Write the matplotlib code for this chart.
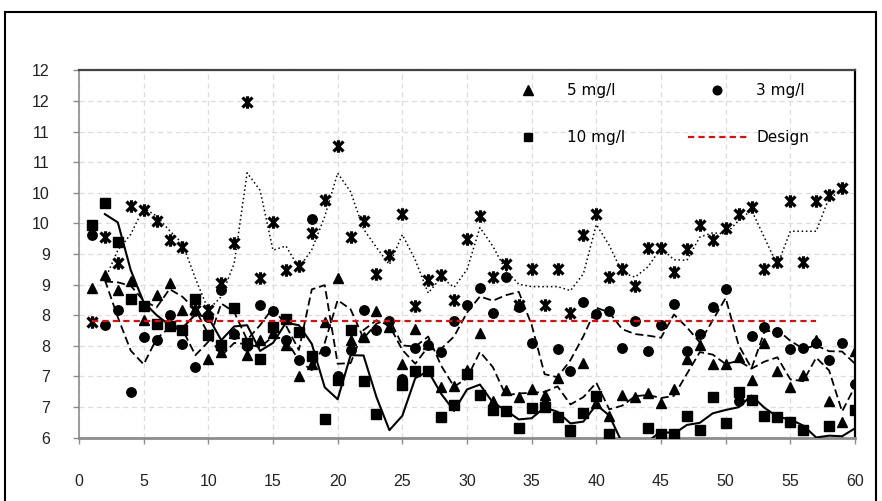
import numpy as np
import pandas as pd
import matplotlib
matplotlib.use("Agg")
import matplotlib.pyplot as plt
from matplotlib.path import Path
from matplotlib.lines import Line2D
from matplotlib.patches import Rectangle
from matplotlib.ticker import FuncFormatter

# ---- data -------------------------------------------------------------
days = list(range(1, 61))

dose_5 = [8.44, 8.66, 8.41, 8.55, 7.92, 8.33, 8.52, 8.08, 8.10, 7.28,
          7.39, 7.70, 7.35, 7.60, 7.70, 7.51, 7.00, 7.20, 7.89, 8.60,
          7.59, 7.65, 8.07, 7.81, 7.20, 7.77, 7.53, 6.82, 6.84, 7.10,
          7.70, 6.60, 6.78, 6.66, 6.80, 6.69, 6.98, 6.10, 7.22, 6.57,
          6.35, 6.69, 6.66, 6.73, 6.56, 6.80, 7.28, 7.51, 7.20, 7.20,
          7.31, 6.94, 7.54, 7.08, 6.82, 7.02, 7.59, 6.60, 6.25, 7.42]

dose_3 = [9.31, 7.84, 8.09, 6.75, 7.64, 7.59, 8.00, 7.53, 7.16, 7.97,
          8.41, 7.69, 7.50, 8.17, 8.07, 7.59, 7.27, 9.57, 7.41, 7.00,
          7.43, 8.08, 7.75, 7.91, 6.95, 7.46, 7.51, 7.39, 7.91, 8.17,
          8.44, 8.03, 8.62, 8.14, 7.54, 6.53, 7.44, 7.09, 8.22, 8.02,
          8.07, 7.47, 7.91, 7.42, 7.84, 8.18, 7.42, 7.69, 8.14, 8.42,
          6.60, 7.66, 7.80, 7.72, 7.44, 7.46, 7.55, 7.27, 7.54, 6.87]

dose_10 = [9.47, 9.83, 9.20, 8.27, 8.15, 7.85, 7.82, 7.76, 8.26, 7.67,
           7.51, 8.12, 7.55, 7.28, 7.81, 7.94, 7.73, 7.33, 6.31, 6.94,
           7.75, 6.93, 6.39, 5.85, 6.86, 7.08, 7.09, 6.34, 6.53, 7.04,
           6.69, 6.45, 6.44, 6.15, 6.48, 6.50, 6.34, 6.12, 6.40, 6.67,
           6.05, 5.77, 5.72, 6.15, 6.06, 6.06, 6.35, 6.13, 6.66, 6.24,
           6.75, 6.62, 6.35, 6.33, 6.26, 6.13, 5.87, 6.19, 5.85, 6.45]

dose_1 = [7.89, 9.27, 8.85, 9.79, 9.71, 9.53, 9.23, 9.11, 8.09, 8.08,
          8.52, 9.17, 11.48, 8.60, 9.52, 8.74, 8.80, 9.34, 9.88, 10.76,
          9.27, 9.54, 8.67, 8.98, 9.65, 8.15, 8.57, 8.66, 8.25, 9.24,
          9.62, 8.63, 8.84, 8.17, 8.76, 8.17, 8.76, 8.04, 9.31, 9.65,
          8.63, 8.76, 8.48, 9.10, 9.10, 8.71, 9.08, 9.47, 9.22, 9.43,
          9.66, 9.77, 8.76, 8.87, 9.87, 8.87, 9.87, 9.97, 10.07]

design_days = [1, 57]
design_level = [7.9, 7.9]

y_ticks = np.arange(6.0, 12.01, 0.5)
x_ticks = list(range(0, 61, 5))

# ---- style helpers ---------------------------------------------------
# asterisk-like star marker: an X crossed by a vertical bar
star_marker = Path(
    [(-1, -1), (1, 1), (-1, 1), (1, -1), (0, -1.25), (0, 1.25)],
    [Path.MOVETO, Path.LINETO, Path.MOVETO, Path.LINETO, Path.MOVETO, Path.LINETO],
)

def moving_avg(values, n=2):
    return pd.Series(values, dtype=float).rolling(n).mean().to_numpy()

tick_font = ["Liberation Sans Narrow", "Liberation Sans", "DejaVu Sans"]

# ---- figure ------------------------------------------------------------
fig = plt.figure(figsize=(8.82, 5.01), dpi=100)
ax = fig.add_axes([79 / 882, 1 - 437.5 / 501, (855 - 79) / 882, (437.5 - 70.3) / 501])

ax.set_xlim(0, 60)
ax.set_ylim(6, 12)

ax.set_yticks(y_ticks)
ax.set_xticks(x_ticks)
ax.yaxis.set_major_formatter(FuncFormatter(lambda v, p: str(int(np.floor(v + 0.5)))))

ax.grid(True, color="#dcdcdc", linestyle=(0, (4, 3)), linewidth=0.9)
ax.set_axisbelow(True)

# markers
ax.plot(days, dose_5, linestyle="none", marker="^", ms=7.6, color="black", zorder=3)
ax.plot(days, dose_3, linestyle="none", marker="o", ms=6.8, color="black", zorder=3)
ax.plot(days, dose_10, linestyle="none", marker="s", ms=6.8, color="black", zorder=3)
ax.plot(days[:len(dose_1)], dose_1, linestyle="none", marker=star_marker, ms=9.0,
        mew=2.3, color="black", zorder=3)

# two-point moving-average trend lines
ax.plot(days, moving_avg(dose_10), color="black", lw=1.5, zorder=4)
ax.plot(days, moving_avg(dose_5), color="black", lw=1.3, linestyle=(0, (4.5, 2.2)), zorder=4)
ax.plot(days, moving_avg(dose_3), color="black", lw=1.3, linestyle=(0, (4.5, 2.2)), zorder=4)
ax.plot(days[:len(dose_1)], moving_avg(dose_1), color="black", lw=1.1,
        linestyle=(0, (1, 1.8)), zorder=4)

# design level
ax.plot(design_days, design_level, color="red", lw=1.5, linestyle=(0, (3, 2)), zorder=5)

# axes styling
for side in ("left", "bottom"):
    ax.spines[side].set_color("#8c8c8c")
ax.spines["left"].set_linewidth(1.2)
ax.spines["bottom"].set_linewidth(2.0)
ax.spines["top"].set_color("#444444")
ax.spines["top"].set_linewidth(1.6)
ax.spines["right"].set_color("black")
ax.spines["right"].set_linewidth(1.6)

ax.tick_params(axis="y", direction="out", length=4, width=1.0, color="#8c8c8c",
               pad=17, labelsize=11.5, labelcolor="#222222")
ax.tick_params(axis="x", direction="out", length=4, width=1.0, color="#8c8c8c",
               pad=22, labelsize=11.5, labelcolor="#222222")
for lab in ax.get_xticklabels() + ax.get_yticklabels():
    lab.set_family(tick_font)

# legend
handles = [
    Line2D([], [], linestyle="none", marker="^", ms=7.0, color="black"),
    Line2D([], [], linestyle="none", marker="s", ms=6.4, color="black"),
    Line2D([], [], linestyle="none", marker="o", ms=6.2, color="black"),
    Line2D([], [], color="red", lw=1.5, linestyle=(0, (3, 2))),
]
labels = ["5 mg/l", "10 mg/l", "3 mg/l", "Design"]
ax.legend(handles, labels, ncol=2, frameon=False,
          prop={"family": "DejaVu Sans", "size": 11},
          handlelength=3.9, handletextpad=0.6, columnspacing=4.1,
          labelspacing=2.1, borderpad=0, borderaxespad=0,
          loc="upper left", bbox_to_anchor=(498 / 882, 1 - 83 / 501),
          bbox_transform=fig.transFigure)

# outer frame
fig.patches.append(Rectangle((5 / 882, -0.05), (876 - 5) / 882, 1.05 - 12 / 501,
                             transform=fig.transFigure, fill=False,
                             edgecolor="black", linewidth=1.5))

fig.savefig("out.png", dpi=100)
